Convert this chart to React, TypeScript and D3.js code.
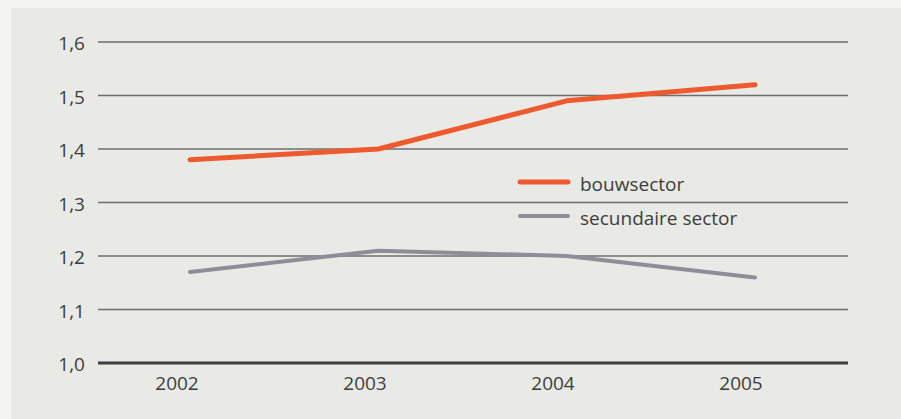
import React from "react";
import * as d3 from "d3";

const years = ["2002", "2003", "2004", "2005"];
const bouwsector = [1.38, 1.4, 1.49, 1.52];
const secundaire = [1.17, 1.21, 1.2, 1.16];
const yTicks = [1.0, 1.1, 1.2, 1.3, 1.4, 1.5, 1.6];
const seriesNames = ["bouwsector", "secundaire sector"];

const W = 901;
const H = 419;
const FONT = "'Open Sans', sans-serif";
const FS = 19;

export default function App() {
  const y = d3.scaleLinear().domain([1.0, 1.6]).range([363, 42]);
  const xPts = d3.scalePoint<string>().domain(years).range([190, 755]);
  const xLab = d3.scalePoint<string>().domain(years).range([177, 741]);
  const gridX0 = 98;
  const gridX1 = 848;
  const line = d3
    .line<number>()
    .x((_, i) => xPts(years[i]) as number)
    .y((d) => y(d));
  const series = [
    { name: seriesNames[0], values: bouwsector, color: "#ee5a2f", width: 5 },
    { name: seriesNames[1], values: secundaire, color: "#8d8e98", width: 4 },
  ];
  return (
    <svg
      width={W}
      height={H}
      style={{ position: "absolute", left: 0, top: 0 }}
      fontFamily={FONT}
    >
      <rect x={0} y={0} width={W} height={H} fill="#f4f4f2" />
      <rect x={11} y={8} width={W - 11} height={H - 8} fill="#e9e9e5" />
      {yTicks.map((t) => (
        <g key={t}>
          <line
            x1={gridX0}
            x2={gridX1}
            y1={y(t)}
            y2={y(t)}
            stroke={t === 1.0 ? "#3a403f" : "#6e6e6e"}
            strokeWidth={t === 1.0 ? 3 : 1.3}
          />
          <text
            x={85}
            y={y(t) + 8}
            textAnchor="end"
            fontSize={FS}
            fill="#3c3e3e"
          >
            {t.toFixed(1).replace(".", ",")}
          </text>
        </g>
      ))}
      {years.map((yr) => (
        <text
          key={yr}
          x={xLab(yr)}
          y={390}
          textAnchor="middle"
          fontSize={FS}
          fill="#3c3e3e"
        >
          {yr}
        </text>
      ))}
      {series.map((s) => (
        <path
          key={s.name}
          d={line(s.values) || ""}
          fill="none"
          stroke={s.color}
          strokeWidth={s.width}
          strokeLinecap="round"
          strokeLinejoin="round"
        />
      ))}
      {series.map((s, i) => (
        <g key={s.name} transform={`translate(0, ${182 + i * 34})`}>
          <line
            x1={520}
            x2={568}
            y1={0}
            y2={0}
            stroke={s.color}
            strokeWidth={s.width}
            strokeLinecap="round"
          />
          <text x={580} y={8.5} fontSize={FS} fill="#3c3e3e">
            {s.name}
          </text>
        </g>
      ))}
    </svg>
  );
}
